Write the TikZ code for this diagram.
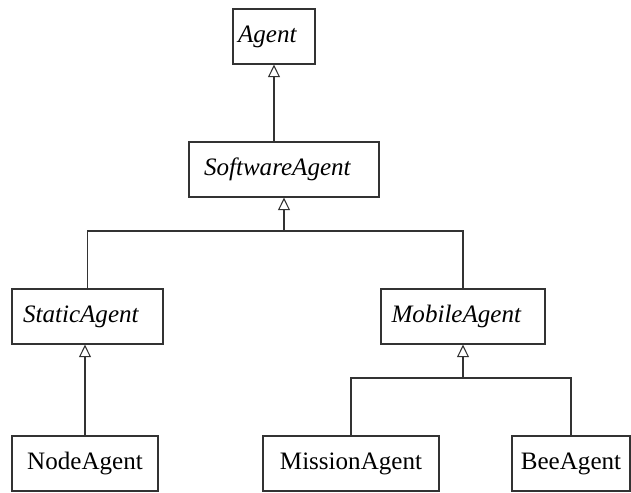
\documentclass[tikz,border=0pt]{standalone}
\usepackage{fontspec}
\setmainfont{Liberation Serif}
\usepackage{tikz}
\usetikzlibrary{positioning,arrows.meta}

\begin{document}
\begin{tikzpicture}[x=0.75pt,y=-0.75pt]
		\tikzstyle{class_style} = [draw=black!80,line width=0.8pt,rectangle,minimum height=41.25pt,inner sep=0pt,font=\fontsize{18.8}{22}\selectfont]
		\tikzstyle{abstract_style} = [class_style,font=\fontsize{18.8}{22}\selectfont\itshape,execute at end node={\hspace*{10pt}}]
		\tikzstyle{edge_style} = [draw=black!80,line width=0.8pt]
		\tikzstyle{inherit_style} = [edge_style,-{Triangle[open,length=9.5pt,width=9pt]}]
		\useasboundingbox (0,0) rectangle (631,492);
		\node[abstract_style,minimum width=61.5pt] (agent) at (274,36.5) {Agent};
		\node[abstract_style,minimum width=142.5pt] (software) at (284,169.5) {SoftwareAgent};
		\node[abstract_style,minimum width=113.25pt] (static) at (87.5,316.5) {StaticAgent};
		\node[abstract_style,minimum width=123pt] (mobile) at (463,316.5) {MobileAgent};
		\node[class_style,minimum width=109.5pt] (nodeag) at (85,463.5) {NodeAgent};
		\node[class_style,minimum width=132pt] (mission) at (351,463.5) {MissionAgent};
		\node[class_style,minimum width=88.5pt] (bee) at (571,463.5) {BeeAgent};
		\coordinate (j1) at (284,231);
		\coordinate (j2) at (463,378);
		\draw[inherit_style] (software.north -| agent) -- (agent.south);
		\draw[inherit_style] (static.north) |- (j1) -- (software.south);
		\draw[edge_style] (mobile.north) |- (j1);
		\draw[inherit_style] (nodeag.north) -- (static.south -| nodeag);
		\draw[inherit_style] (mission.north) |- (j2) -- (mobile.south);
		\draw[edge_style] (bee.north) |- (j2);
\end{tikzpicture}
\end{document}
